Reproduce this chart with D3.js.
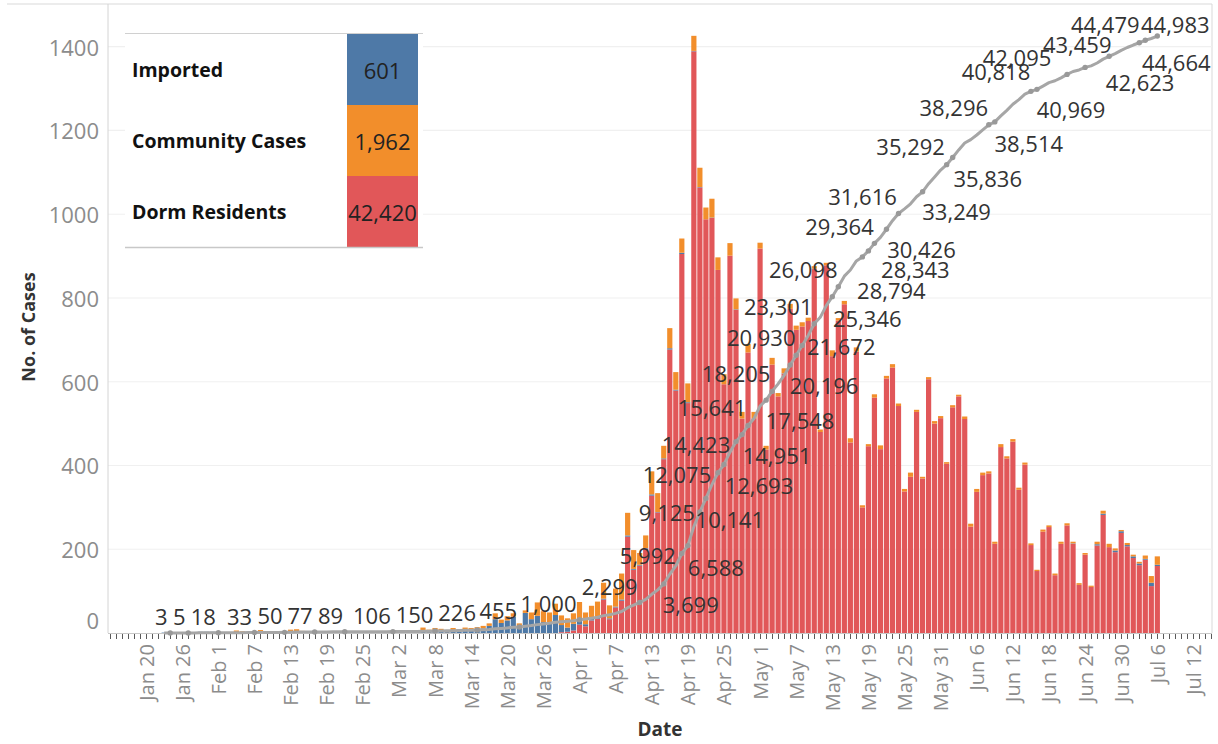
<!DOCTYPE html>
<html><head><meta charset="utf-8">
<script src="https://cdn.jsdelivr.net/npm/d3@7"></script>
<style>
html,body{margin:0;padding:0;background:#fff;}
svg{display:block;font-family:"Open Sans",sans-serif;}
</style></head>
<body><svg id="chart" width="1218" height="744"></svg>
<script>
// ---------- DATA ----------
const firstDay = "2020-01-23"; // one value per day from here to Jul 6

const imported = [
  1,2,0,1,1,2,3,3,3,                                   // Jan 23-31
  2,0,0,0,0,0,0,0,0,0, 0,0,0,0,0,0,0,0,0,0, 0,0,0,0,0,0,0,0,1, // Feb
  2,1,1,0,2,3,2,3,3,2, 5,3,6,7,9,11,17,33,24,30, 39,17,48,33,41,26,23,43,17,10, 16, // Mar
  14,5,5,3,2,2,2,3,3,2, 2,1,3,1,2,3,2,3,2,1, 1,0,1,0,0,0,1,0,0,0, // Apr
  0,0,0,0,1,0,0,0,0,1, 0,0,0,0,0,0,0,0,0,0, 0,0,0,0,0,0,0,0,0,0, 0, // May
  0,0,0,0,0,0,0,0,0,0, 0,0,0,0,0,0,0,0,0,0, 0,1,0,0,0,3,3,0,4,4, // Jun
  3,4,4,2,8,3                                          // Jul 1-6
];
const community = [
  0,0,0,0,0,0,0,0,0,
  0,0,0,6,4,2,3,7,3,2, 2,3,8,9,5,3,2,4,3,1, 1,3,0,1,1,2,3,2,3,
  2,1,1,0,5,10,6,9,7,4, 7,6,7,5,5,6,6,14,8,10, 8,6,6,16,32,26,26,27,23,22, 25,
  40,28,30,38,38,31,43,62,54,45, 28,30,55,45,30,48,42,34,45,36, 46,28,45,30,24,30,26,16,20,15,
  14,9,16,8,12,12,10,10,8,6, 6,6,14,6,8,10,10,5,5,8, 9,6,8,6,6,10,5,4,5,6, 5,
  4,5,4,6,7,7,6,5,5,7, 5,6,5,5,4,3,5,4,4,5, 5,4,4,4,3,6,7,8,5,3,
  5,4,4,8,16,20
];
const dorm = [
  0,0,0,0,0,0,0,0,0,
  0,0,0,0,0,0,0,0,0,0, 0,0,0,0,0,0,0,0,0,0, 0,0,0,0,0,0,0,0,0,
  0,0,0,0,0,0,0,0,0,0, 0,0,0,0,0,0,0,0,0,0, 0,0,0,0,0,0,0,0,2,3, 6,
  20,16,30,34,80,33,61,77,230,151, 161,202,328,288,415,677,579,905,549,1389, 1064,988,991,867,594,901,772,512,670,513,
  918,438,641,565,619,774,724,732,745,869, 480,878,661,746,785,455,672,300,446,562, 439,608,634,542,338,373,528,369,606,500, 513,
  404,539,565,511,254,337,377,381,213,444, 417,457,342,402,210,148,242,253,138,213, 257,213,115,187,110,209,282,205,193,239,
  207,179,162,175,112,160
];

const seriesNames  = ["Imported", "Community Cases", "Dorm Residents"];
const seriesTotals = [601, 1962, 42420];
const seriesColors = ["#4e79a7", "#f28e2b", "#e15759"];

const xTickLabels = ["Jan 20","Jan 26","Feb 1","Feb 7","Feb 13","Feb 19","Feb 25","Mar 2","Mar 8","Mar 14",
  "Mar 20","Mar 26","Apr 1","Apr 7","Apr 13","Apr 19","Apr 25","May 1","May 7","May 13","May 19","May 25",
  "May 31","Jun 6","Jun 12","Jun 18","Jun 24","Jun 30","Jul 6","Jul 12"];
const yTicks = [0,200,400,600,800,1000,1200,1400];

// days whose cumulative total is labelled on the line
const labelDates = ["2020-01-24","2020-01-27","2020-02-01","2020-02-07","2020-02-12","2020-02-17","2020-02-22",
  "2020-03-01","2020-03-08","2020-03-15","2020-03-22","2020-04-01","2020-04-11","2020-04-15","2020-04-18",
  "2020-04-19","2020-04-21","2020-04-22","2020-04-24","2020-04-25","2020-04-27","2020-04-28","2020-04-29",
  "2020-05-02","2020-05-03","2020-05-06","2020-05-07","2020-05-08","2020-05-10","2020-05-13","2020-05-14",
  "2020-05-18","2020-05-19","2020-05-20","2020-05-22","2020-05-24","2020-05-28","2020-06-01","2020-06-02",
  "2020-06-08","2020-06-09","2020-06-15","2020-06-16","2020-06-21","2020-06-24","2020-06-28","2020-07-03",
  "2020-07-04","2020-07-06"];
// layout only: label offset from its point (px)
const labelOffsets = [[-9,-17],[-9,-17],[-15,-17],[-15,-17],[-14.5,-17],[-14.6,-17],[-14.2,-17],
  [-21,-17],[-20.5,-17],[-20,-18.5],[-21,-17],[-31,-17],[-30,-16.5],[27,20.5],[-34,1.5],
  [28,21],[-33,0.5],[24,20.6],[-41,1],[35,20],[-40,2.4],[35,20],[-36,-18],
  [34,20],[-36,-18],[34,20],[-35,-18],[39,0.6],[-36,-18],[35,21],[-35,-18],
  [53,12.6],[23,39],[-35,-17],[35,20],[-36,-17.5],[34,19],[-36,-19],[35,20.6],
  [-35,-18],[34,21],[-35,-20],[34,20],[-50,-17],[55,15],[-32,-12],[-34,-19],
  [31,22],[18,-12]];

// ---------- BUILD ----------
const parseISO = d3.utcParse("%Y-%m-%d");
const parseTick = s => d3.utcParse("%b %d %Y")(s + " 2020");
const fmt = d3.format(",");
const day0 = parseISO(firstDay);

const rows = imported.map((v, i) => ({
  date: d3.utcDay.offset(day0, i),
  imported: v, community: community[i], dorm: dorm[i]
}));
const cum = d3.cumsum(rows, r => r.imported + r.community + r.dorm);
rows.forEach((r, i) => r.cum = cum[i]);
const byKey = new Map(rows.map(r => [+r.date, r]));

const L = 108, R = 1212, T = 4, B = 633;
const svg = d3.select("#chart");

const x = d3.scaleUtc()
  .domain([d3.utcHour.offset(parseTick("Jan 20"), -151.5), d3.utcHour.offset(parseTick("Jul 12"), 74)])
  .range([L, R]);
const y = d3.scaleLinear().domain([0, 1502]).range([B, T]);
const y2 = d3.scaleLinear().domain([0, 47400]).range([B, T]);

// frame
svg.append("line").attr("x1", 7).attr("x2", R).attr("y1", T).attr("y2", T).attr("stroke", "#d9d9d9");
svg.append("line").attr("x1", R).attr("x2", R).attr("y1", T).attr("y2", B).attr("stroke", "#d9d9d9");

// gridlines
svg.append("g").selectAll("line").data(yTicks.filter(t => t > 0)).join("line")
  .attr("x1", L).attr("x2", R).attr("y1", d => y(d)).attr("y2", d => y(d))
  .attr("stroke", "#f0f0f0").attr("stroke-width", 1.2);

// y axis line + labels
svg.append("line").attr("x1", L).attr("x2", L).attr("y1", T).attr("y2", B).attr("stroke", "#d4d4d4");
svg.append("g").selectAll("text").data(yTicks).join("text")
  .attr("x", 99).attr("y", d => d === 0 ? y(d) - 13 : y(d))
  .attr("text-anchor", "end").attr("dominant-baseline", "central")
  .attr("font-size", 22).attr("fill", "#8c8c8c").text(d => d);

// bars (stack: dorm, imported, community)
const stack = d3.stack().keys(["dorm", "imported", "community"])(rows);
const colorOf = {dorm: seriesColors[2], imported: seriesColors[0], community: seriesColors[1]};
const bw = 5.2;
svg.append("g").selectAll("g").data(stack).join("g")
  .attr("fill", s => colorOf[s.key])
  .selectAll("rect").data(s => s).join("rect")
  .attr("x", d => x(d.data.date) - bw / 2).attr("width", bw)
  .attr("y", d => y(d[1])).attr("height", d => Math.max(0, y(d[0]) - y(d[1])));

// baseline & daily ticks
svg.append("line").attr("x1", L).attr("x2", R).attr("y1", B + 0.5).attr("y2", B + 0.5).attr("stroke", "#c8c8c8");
const days = d3.utcDay.range(d3.utcDay.ceil(x.domain()[0]), x.domain()[1]);
svg.append("g").selectAll("line").data(days).join("line")
  .attr("x1", d => Math.round(x(d)) + 0.5).attr("x2", d => Math.round(x(d)) + 0.5)
  .attr("y1", B + 1).attr("y2", B + 6).attr("stroke", "#5a5a5a");

// x labels
svg.append("g").selectAll("text").data(xTickLabels).join("text")
  .attr("transform", s => `translate(${x(parseTick(s))},644) rotate(-90)`)
  .attr("text-anchor", "end").attr("dominant-baseline", "central")
  .attr("font-size", 20).attr("fill", "#8c8c8c").text(s => s);

// cumulative line
svg.append("path").datum(rows)
  .attr("fill", "none").attr("stroke", "#a6a6a6").attr("stroke-width", 3)
  .attr("stroke-linejoin", "round")
  .attr("d", d3.line().x(r => x(r.date)).y(r => y2(r.cum)));

const labelled = labelDates.map((s, i) => ({ r: byKey.get(+parseISO(s)), off: labelOffsets[i] }));
svg.append("g").selectAll("circle").data(labelled).join("circle")
  .attr("cx", d => x(d.r.date)).attr("cy", d => y2(d.r.cum)).attr("r", 2.7).attr("fill", "#999");
svg.append("g").selectAll("text").data(labelled).join("text")
  .attr("x", d => x(d.r.date) + d.off[0]).attr("y", d => y2(d.r.cum) + d.off[1])
  .attr("text-anchor", "middle").attr("dominant-baseline", "central")
  .attr("font-size", 22).attr("fill", "#333").text(d => fmt(d.r.cum));

// axis titles
svg.append("text").attr("transform", "translate(28,327) rotate(-90)")
  .attr("text-anchor", "middle").attr("dominant-baseline", "central")
  .attr("font-size", 18).attr("font-weight", 700).attr("fill", "#333").text("No. of Cases");
svg.append("text").attr("x", 660).attr("y", 729)
  .attr("text-anchor", "middle").attr("dominant-baseline", "central")
  .attr("font-size", 19).attr("font-weight", 700).attr("fill", "#333").text("Date");

// legend table
const lg = svg.append("g");
const lx0 = 125, lx1 = 423, cellX = 347, cellW = 71, ly0 = 34, rowH = 71;
lg.append("rect").attr("x", lx0).attr("y", ly0).attr("width", lx1 - lx0).attr("height", rowH * 3).attr("fill", "#fff");
seriesNames.forEach((n, i) => {
  lg.append("rect").attr("x", cellX).attr("y", ly0 + i * rowH).attr("width", cellW).attr("height", rowH)
    .attr("fill", seriesColors[i]);
  lg.append("text").attr("x", 132).attr("y", ly0 + i * rowH + rowH / 2)
    .attr("dominant-baseline", "central").attr("font-size", 19.5).attr("font-weight", 700)
    .attr("fill", "#111").text(n);
  lg.append("text").attr("x", cellX + cellW / 2).attr("y", ly0 + i * rowH + rowH / 2)
    .attr("text-anchor", "middle").attr("dominant-baseline", "central").attr("font-size", 22)
    .attr("fill", "#222").text(fmt(seriesTotals[i]));
});
lg.append("line").attr("x1", lx0).attr("x2", lx1).attr("y1", ly0 - 0.5).attr("y2", ly0 - 0.5).attr("stroke", "#d0d0d0");
lg.append("line").attr("x1", lx0).attr("x2", lx1).attr("y1", ly0 + rowH * 3 + 0.5).attr("y2", ly0 + rowH * 3 + 0.5)
  .attr("stroke", "#c8c8c8").attr("stroke-width", 1.5);
</script>
</body></html>
